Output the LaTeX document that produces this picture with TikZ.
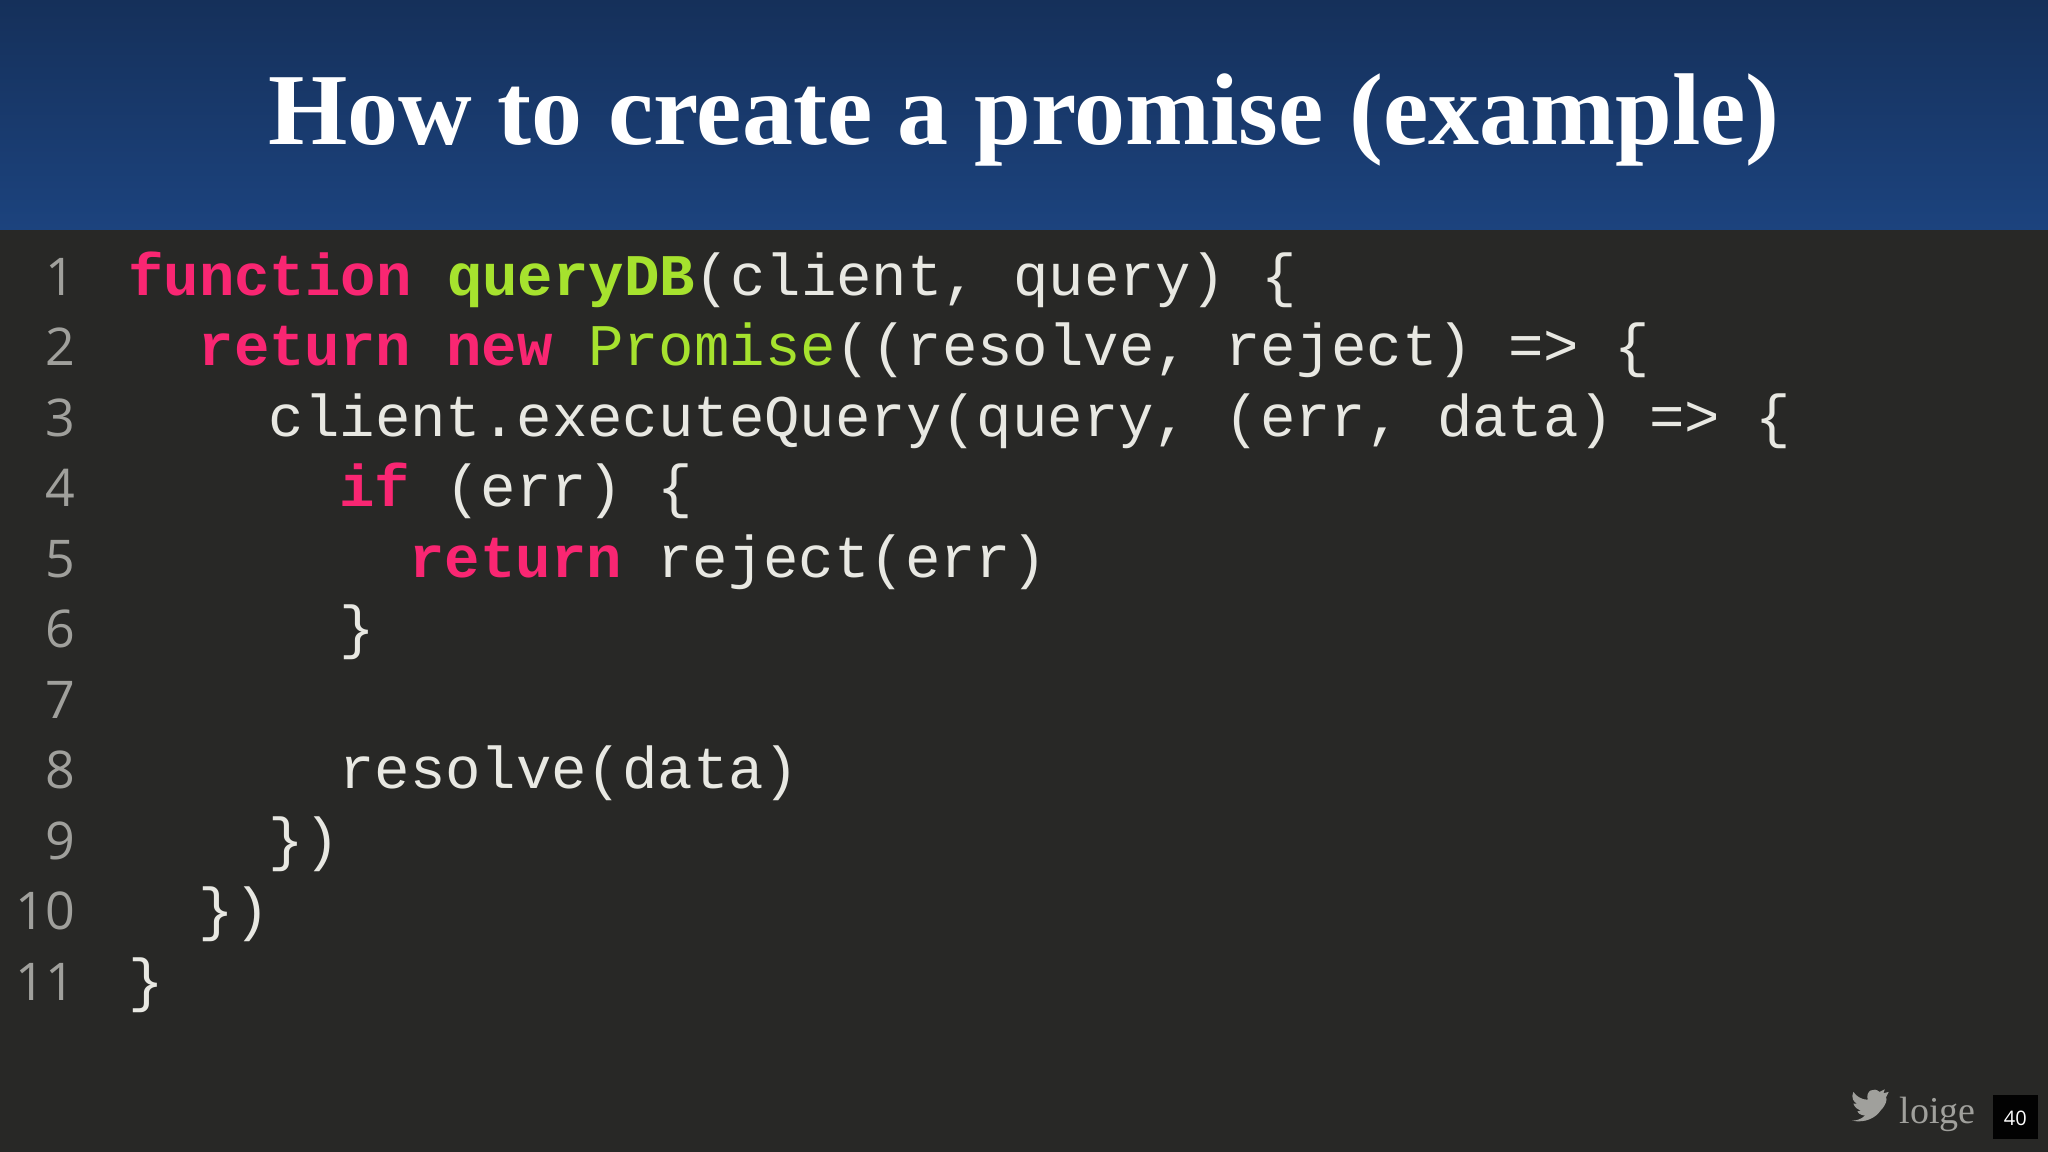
\documentclass[tikz,border=0pt]{standalone}
\usepackage{fontspec}
\setmainfont{Liberation Serif}
\setmonofont{Liberation Mono}
\newfontfamily\numfont{Open Sans}
\definecolor{bgdark}{HTML}{282826}
\definecolor{hdtop}{HTML}{15305A}
\definecolor{hdbot}{HTML}{1C437E}
\definecolor{kwpink}{HTML}{F92672}
\definecolor{fngreen}{HTML}{A6E22E}
\definecolor{codetxt}{HTML}{E8E8E2}
\definecolor{lnum}{HTML}{A0A09C}
\newcommand{\kw}[1]{\textcolor{kwpink}{\textbf{#1}}}
\newcommand{\fn}[1]{\textcolor{fngreen}{\textbf{#1}}}
\newcommand{\gr}[1]{\textcolor{fngreen}{#1}}
\begin{document}
\begin{tikzpicture}[x=0.6531pt,y=-0.6531pt,
  code/.style={anchor=base west,inner sep=0,text=codetxt,font=\fontsize{29.5}{30}\selectfont\ttfamily},
  lnno/.style={anchor=base east,inner sep=0,text=lnum,font=\fontsize{26}{28}\selectfont\numfont}]
\useasboundingbox (0,0) rectangle (1568,882);
\fill[bgdark] (0,0) rectangle (1568,882);
\shade[top color=hdtop,bottom color=hdbot] (0,0) rectangle (1568,176);
\node[text=white,font=\fontsize{51}{54}\selectfont\bfseries] (title) at (784,92) {How to create a promise (example)};
\foreach \n in {1,...,11}{
  \node[lnno] (n\n) at (58,{226+(\n-1)*54}) {\n};
}
\def\cw{26.9}
\node[code] (c1) at (98,226) {\kw{function} \fn{queryDB}(client, query) \{};
\node[code] (c2) at ({98+2*\cw},280) {\kw{return} \kw{new} \gr{Promise}((resolve, reject) => \{};
\node[code] (c3) at ({98+4*\cw},334) {client.executeQuery(query, (err, data) => \{};
\node[code] (c4) at ({98+6*\cw},388) {\kw{if} (err) \{};
\node[code] (c5) at ({98+8*\cw},442) {\kw{return} reject(err)};
\node[code] (c6) at ({98+6*\cw},496) {\}};
\node[code] (c8) at ({98+6*\cw},604) {resolve(data)};
\node[code] (c9) at ({98+4*\cw},658) {\})};
\node[code] (c10) at ({98+2*\cw},712) {\})};
\node[code] (c11) at (98,766) {\}};
% twitter bird
\fill[lnum] (1418,858) .. controls (1428,860) and (1436,856) .. (1440,850)
  .. controls (1444,846) and (1445,842) .. (1444,840)
  -- (1446,836) -- (1442,837) -- (1443,834) -- (1439,836)
  .. controls (1435,832) and (1428,835) .. (1430,842)
  .. controls (1425,842) and (1421,839) .. (1419,836)
  .. controls (1417,840) and (1419,844) .. (1422,845)
  -- (1419,845) .. controls (1420,848) and (1423,850) .. (1425,850)
  -- (1422,851) .. controls (1424,854) and (1427,854) .. (1428,854)
  .. controls (1425,857) and (1421,858) .. (1418,858) -- cycle;
\node[text=lnum,font=\fontsize{19}{20}\selectfont,anchor=west,inner sep=0] (tw) at (1454,853) {loige};
\fill[black!95!bgdark] (1526,838) rectangle (1560,872);
\node[text=white,font=\fontsize{10}{11}\selectfont\numfont] (pg) at (1543,856) {40};
\end{tikzpicture}
\end{document}
